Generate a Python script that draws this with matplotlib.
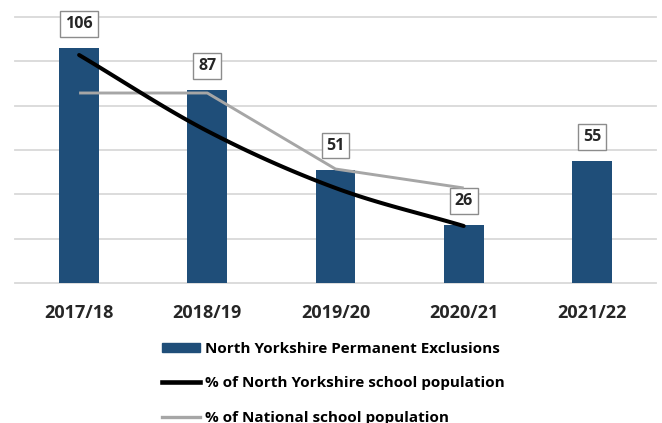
import numpy as np
import matplotlib
matplotlib.use("Agg")
import matplotlib.pyplot as plt
from matplotlib.patches import Patch
from matplotlib.lines import Line2D

# Data
years = ["2017/18", "2018/19", "2019/20", "2020/21", "2021/22"]
exclusions = [106, 87, 51, 26, 55]
ny_pct = [0.12, 0.08, 0.05, 0.03]        # % of North Yorkshire school population
national_pct = [0.10, 0.10, 0.06, 0.05]  # % of National school population
gridlevels = [0, 20, 40, 60, 80, 100, 120]

BLUE = "#1f4e79"
GREY = "#a6a6a6"
GRID = "#d9d9d9"
TEXT = "#262626"

plt.rcParams["font.family"] = ["Open Sans", "DejaVu Sans"]


def smooth(x, y, n=30):
    """Catmull-Rom curve through the given points."""
    x = np.asarray(x, float)
    y = np.asarray(y, float)
    px = np.concatenate([[2 * x[0] - x[1]], x, [2 * x[-1] - x[-2]]])
    py = np.concatenate([[2 * y[0] - y[1]], y, [2 * y[-1] - y[-2]]])
    xs, ys = [], []
    t = np.linspace(0, 1, n)
    for i in range(1, len(px) - 2):
        for arr, out in ((px, xs), (py, ys)):
            p0, p1, p2, p3 = arr[i - 1], arr[i], arr[i + 1], arr[i + 2]
            seg = 0.5 * ((2 * p1) + (-p0 + p2) * t + (2 * p0 - 5 * p1 + 4 * p2 - p3) * t ** 2
                         + (-p0 + 3 * p1 - 3 * p2 + p3) * t ** 3)
            out.extend(seg if i == 1 else seg[1:])
    return np.array(xs), np.array(ys)


fig = plt.figure(figsize=(6.62, 4.23), dpi=100)
ax = fig.add_axes([15 / 662, 140 / 423, 641 / 662, 266 / 423])

x = np.arange(len(years))
ax.set_xlim(-0.5, len(years) - 0.5)
ax.set_ylim(0, 120)
for g in gridlevels:
    ax.axhline(g, color=GRID, linewidth=1.3, zorder=0, clip_on=False)
ax.bar(x, exclusions, width=0.31, color=BLUE, zorder=2)
ax.set_xticks(x)
ax.set_xticklabels(years, fontsize=13, fontweight="bold", color=TEXT)
ax.tick_params(axis="x", length=0, pad=15)
ax.yaxis.set_visible(False)
for s in ax.spines.values():
    s.set_visible(False)

for xi, v in zip(x, exclusions):
    ax.annotate(str(v), (xi, v), xytext=(0, 17.5), textcoords="offset points",
                ha="center", va="center", fontsize=11.5, fontweight="bold", color=TEXT,
                bbox=dict(boxstyle="square,pad=0.3", fc="white", ec="#8c8c8c", lw=1.0),
                zorder=5, annotation_clip=False)

# secondary scale for the percentage lines
ax2 = ax.twinx()
ax2.set_ylim(0, 0.14)
ax2.axis("off")
ax.yaxis.set_visible(False)
xl = np.arange(len(ny_pct))
ax2.plot(xl, national_pct, color=GREY, lw=2.1, solid_capstyle="butt", zorder=3)
sx, sy = smooth(xl, ny_pct)
ax2.plot(sx, sy, color="black", lw=2.9, solid_capstyle="round", zorder=4)

handles = [Patch(facecolor=BLUE, edgecolor=BLUE),
           Line2D([], [], color="black", lw=3.3),
           Line2D([], [], color=GREY, lw=2.4)]
labels = ["North Yorkshire Permanent Exclusions",
          "% of North Yorkshire school population",
          "% of National school population"]
fig.legend(handles, labels, loc="upper left", bbox_to_anchor=(148.5 / 662, 1 - 328 / 423),
           frameon=False, handlelength=2.5, handleheight=0.5,
           handletextpad=0.28, labelspacing=1.34,
           prop={"weight": "bold", "size": 11})

fig.savefig("out.png", dpi=100)
